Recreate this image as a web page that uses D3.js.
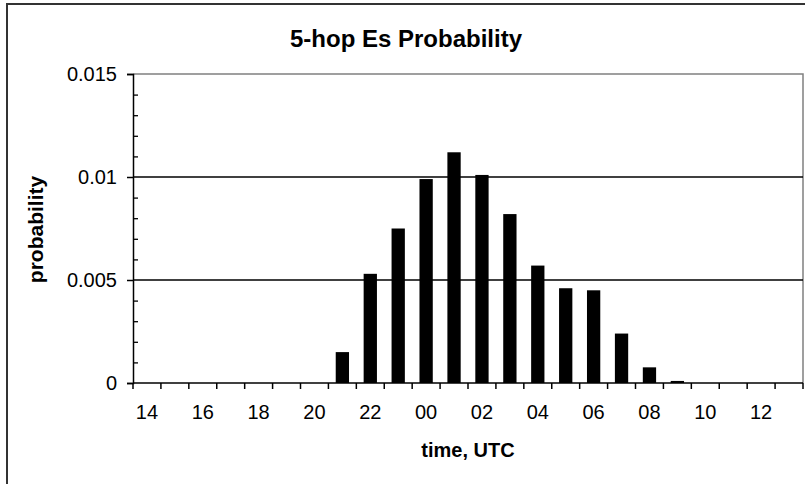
<!DOCTYPE html>
<html>
<head>
<meta charset="utf-8">
<script src="https://cdn.jsdelivr.net/npm/d3@7"></script>
<style>
  html, body { margin: 0; padding: 0; background: #fff; }
  svg { display: block; }
  text { font-family: "Liberation Sans", Arial, sans-serif; fill: #000; }
</style>
</head>
<body>
<svg id="chart" width="805" height="484"></svg>
<script>
// ---- data ----
const hours = ["14","15","16","17","18","19","20","21","22","23","00","01","02","03","04","05","06","07","08","09","10","11","12","13"];
const probability = [0,0,0,0,0,0,0,0.0015,0.0053,0.0075,0.0099,0.0112,0.0101,0.0082,0.0057,0.0046,0.0045,0.0024,0.00076,0.0001,0,0,0,0];
const xTickLabels = ["14","16","18","20","22","00","02","04","06","08","10","12"];
const yTicks = [0, 0.005, 0.01, 0.015];
const yTickLabels = ["0", "0.005", "0.01", "0.015"];
const yMinorTicks = [0.001,0.002,0.003,0.004,0.006,0.007,0.008,0.009,0.011,0.012,0.013,0.014];
const chartTitle = "5-hop Es Probability";
const xTitle = "time, UTC";
const yTitle = "probability";

// ---- layout ----
const W = 805, H = 484;
const plot = { left: 133, right: 803, top: 74, bottom: 383 };
const svg = d3.select("#chart");

svg.append("rect").attr("x", 0).attr("y", 0).attr("width", W).attr("height", H).attr("fill", "#fff");

// outer chart border (left & top visible)
svg.append("path")
  .attr("d", `M7,${H} L7,4 L${W},4`)
  .attr("fill", "none").attr("stroke", "#333").attr("stroke-width", 2);

const x = d3.scaleBand().domain(hours).range([plot.left, plot.right])
  .paddingInner(1.1 / 2.1).paddingOuter(1.1 / 4.2);
const y = d3.scaleLinear().domain([0, 0.015]).range([plot.bottom, plot.top]);

// plot area border (top & right, gray)
svg.append("path")
  .attr("d", `M${plot.left},${plot.top} L${plot.right},${plot.top} L${plot.right},${plot.bottom}`)
  .attr("fill", "none").attr("stroke", "#808080").attr("stroke-width", 1.5);

// gridlines
svg.append("g").selectAll("line").data(yTicks.filter(v => v > 0 && v < 0.015)).join("line")
  .attr("x1", plot.left).attr("x2", plot.right)
  .attr("y1", d => y(d)).attr("y2", d => y(d))
  .attr("stroke", "#000").attr("stroke-width", 1.3);

// bars
svg.append("g").selectAll("rect").data(probability).join("rect")
  .attr("x", (d, i) => x(hours[i]))
  .attr("width", x.bandwidth())
  .attr("y", d => y(d))
  .attr("height", d => y(0) - y(d))
  .attr("fill", "#000");

// y axis
const yAxis = d3.axisLeft(y).tickValues(yTicks)
  .tickFormat((d, i) => yTickLabels[i]).tickSize(6).tickPadding(10);
const gy = svg.append("g").attr("transform", `translate(${plot.left},0)`).call(yAxis);
gy.select(".domain").attr("stroke", "#000").attr("stroke-width", 1.5);
gy.selectAll(".tick line").attr("stroke", "#000").attr("stroke-width", 1.5);
gy.selectAll("text").style("font-size", "20px").attr("fill", "#000");

// minor y ticks (inside)
const yMinor = d3.axisRight(y).tickValues(yMinorTicks).tickSize(5).tickFormat("");
const gym = svg.append("g").attr("transform", `translate(${plot.left},0)`).call(yMinor);
gym.select(".domain").remove();
gym.selectAll(".tick line").attr("stroke", "#000").attr("stroke-width", 1.3);

// x axis: ticks at category boundaries
const boundaries = hours.map(h => x(h) - x.step() * x.paddingOuter()).concat([plot.right]);
const gx = svg.append("g");
gx.append("line").attr("x1", plot.left).attr("x2", plot.right)
  .attr("y1", plot.bottom).attr("y2", plot.bottom)
  .attr("stroke", "#000").attr("stroke-width", 1.5);
gx.selectAll("line.tk").data(boundaries).join("line").attr("class", "tk")
  .attr("x1", d => d).attr("x2", d => d)
  .attr("y1", plot.bottom).attr("y2", plot.bottom + 6)
  .attr("stroke", "#000").attr("stroke-width", 1.5);
gx.selectAll("text").data(xTickLabels).join("text")
  .attr("x", d => x(d) + x.bandwidth() / 2)
  .attr("y", 419)
  .attr("text-anchor", "middle")
  .style("font-size", "20px")
  .text(d => d);

// titles
svg.append("text").attr("x", 406).attr("y", 47).attr("text-anchor", "middle")
  .style("font-size", "24px").style("font-weight", "bold").text(chartTitle);
svg.append("text").attr("x", (plot.left + plot.right) / 2).attr("y", 457).attr("text-anchor", "middle")
  .style("font-size", "20px").style("font-weight", "bold").text(xTitle);
svg.append("text")
  .attr("transform", `translate(43,${(plot.top + plot.bottom) / 2 + 1}) rotate(-90)`)
  .attr("text-anchor", "middle")
  .style("font-size", "21px").style("font-weight", "bold").text(yTitle);
</script>
</body>
</html>
